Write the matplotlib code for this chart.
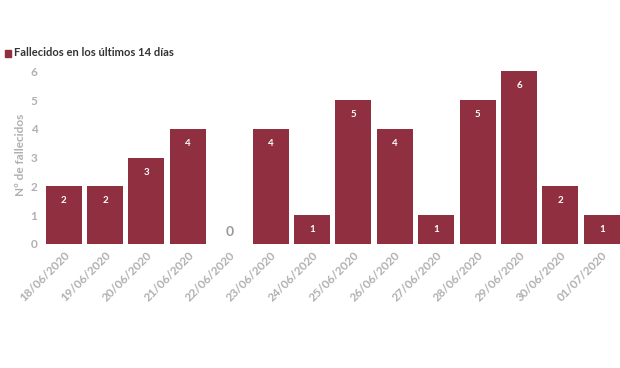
import matplotlib.pyplot as plt
import numpy as np

fechas = ['18/06/2020', '19/06/2020', '20/06/2020', '21/06/2020', '22/06/2020',
          '23/06/2020', '24/06/2020', '25/06/2020', '26/06/2020', '27/06/2020',
          '28/06/2020', '29/06/2020', '30/06/2020', '01/07/2020']
fallecidos = [2, 2, 3, 4, 0, 4, 1, 5, 4, 1, 5, 6, 2, 1]

BAR = '#8f2f3f'
GRAY = '#b0b0b0'
plt.rcParams['font.family'] = ['Lato', 'DejaVu Sans']

fig = plt.figure(figsize=(6.2, 3.68), dpi=100)
ax = fig.add_axes([43 / 620, 0.337, 1 - 43 / 620, 0.485])

x = np.arange(len(fechas))
ax.bar(x, fallecidos, width=0.87, color=BAR)

# value labels
for xi, v in zip(x, fallecidos):
    if v == 0:
        ax.text(xi, 0.4, '0', ha='center', va='center', color='#999999',
                fontsize=10, fontweight='bold')
    else:
        ax.text(xi, v - 0.5, str(v), ha='center', va='center', color='white',
                fontsize=7, fontweight='bold')

ax.set_xlim(-0.5, 13.44)
ax.set_ylim(0, 6.2)
ax.set_xticks(x)
ax.set_xticklabels(fechas, rotation=45, ha='right', va='top',
                   rotation_mode='anchor', color=GRAY, fontsize=8.5,
                   fontweight='bold')
ax.set_yticks(range(7))
ax.set_yticklabels([str(i) for i in range(7)], color=GRAY, fontsize=8.5,
                   fontweight='bold')
ax.tick_params(axis='both', length=0, pad=4)
ax.tick_params(axis='y', pad=4)
for s in ax.spines.values():
    s.set_visible(False)

ax.set_ylabel('Nº de fallecidos', color=GRAY, fontsize=8.5, fontweight='bold',
              labelpad=3)

# legend
fig.patches.append(plt.Rectangle((5 / 620, 1 - 57 / 368), 6 / 620, 7 / 368,
                                 transform=fig.transFigure, color=BAR))
fig.text(14 / 620, 1 - 53 / 368, 'Fallecidos en los últimos 14 días',
         fontsize=8, fontweight='bold', color='#333333', va='center')

plt.savefig('out.png', dpi=100)
